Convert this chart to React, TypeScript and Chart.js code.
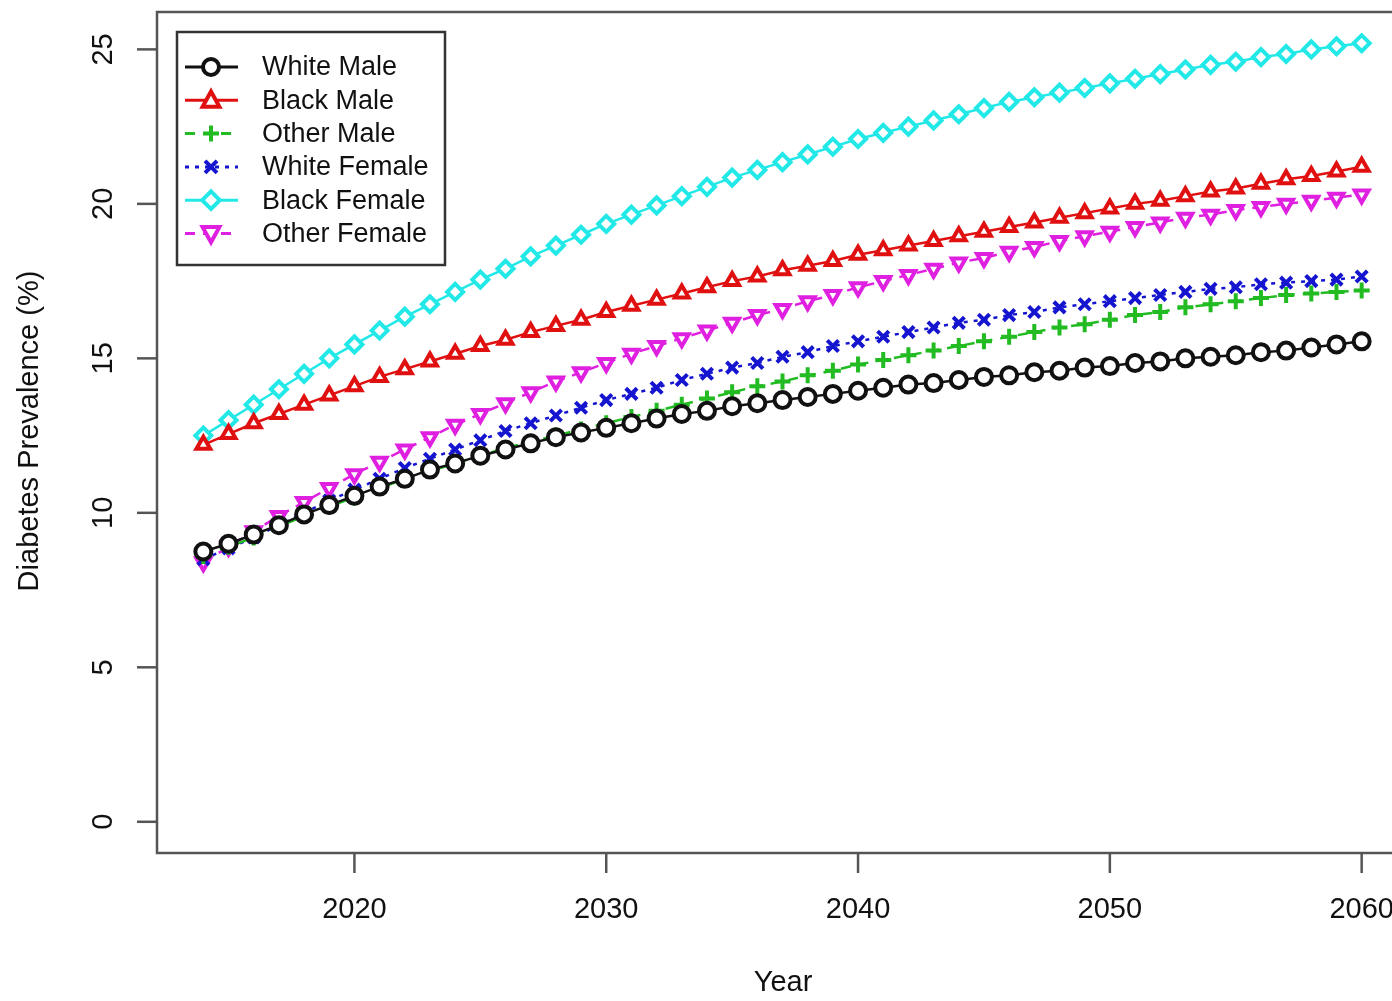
import React, { useEffect, useRef } from "react";
import { Chart, registerables } from "chart.js";
Chart.register(...registerables);

const years = [
  2014, 2015, 2016, 2017, 2018, 2019, 2020, 2021, 2022, 2023, 2024, 2025, 2026, 2027, 2028, 2029,
  2030, 2031, 2032, 2033, 2034, 2035, 2036, 2037, 2038, 2039, 2040, 2041, 2042, 2043, 2044, 2045,
  2046, 2047, 2048, 2049, 2050, 2051, 2052, 2053, 2054, 2055, 2056, 2057, 2058, 2059, 2060,
];

const whiteMale = [
  8.75, 9.0, 9.3, 9.6, 9.95, 10.25, 10.55, 10.85, 11.1, 11.4, 11.6, 11.85, 12.05, 12.25, 12.45, 12.6,
  12.75, 12.9, 13.05, 13.2, 13.3, 13.45, 13.55, 13.65, 13.75, 13.85, 13.95, 14.05, 14.15, 14.2, 14.3, 14.4,
  14.45, 14.55, 14.6, 14.7, 14.75, 14.85, 14.9, 15.0, 15.05, 15.1, 15.2, 15.25, 15.35, 15.45, 15.55,
];
const blackMale = [
  12.2, 12.55, 12.9, 13.2, 13.5, 13.8, 14.1, 14.4, 14.65, 14.9, 15.15, 15.4, 15.6, 15.85, 16.05, 16.25,
  16.5, 16.7, 16.9, 17.1, 17.3, 17.5, 17.65, 17.85, 18.0, 18.15, 18.35, 18.5, 18.65, 18.8, 18.95, 19.1,
  19.25, 19.4, 19.55, 19.7, 19.85, 20.0, 20.1, 20.25, 20.4, 20.5, 20.65, 20.8, 20.9, 21.05, 21.2,
];
const otherMale = [
  8.6, 8.9, 9.2, 9.55, 9.9, 10.2, 10.5, 10.8, 11.1, 11.35, 11.6, 11.85, 12.1, 12.3, 12.5, 12.7,
  12.9, 13.1, 13.3, 13.5, 13.7, 13.9, 14.1, 14.25, 14.45, 14.6, 14.8, 14.95, 15.1, 15.25, 15.4, 15.55,
  15.7, 15.85, 16.0, 16.1, 16.25, 16.4, 16.5, 16.65, 16.75, 16.85, 16.95, 17.05, 17.1, 17.15, 17.2,
];
const whiteFemale = [
  8.5, 8.85, 9.2, 9.6, 10.0, 10.4, 10.75, 11.1, 11.45, 11.75, 12.05, 12.35, 12.65, 12.9, 13.15, 13.4,
  13.65, 13.85, 14.05, 14.3, 14.5, 14.7, 14.85, 15.05, 15.2, 15.4, 15.55, 15.7, 15.85, 16.0, 16.15, 16.25,
  16.4, 16.5, 16.65, 16.75, 16.85, 16.95, 17.05, 17.15, 17.25, 17.3, 17.4, 17.45, 17.5, 17.55, 17.65,
];
const blackFemale = [
  12.5, 13.0, 13.5, 14.0, 14.5, 15.0, 15.45, 15.9, 16.35, 16.75, 17.15, 17.55, 17.9, 18.3, 18.65, 19.0,
  19.35, 19.65, 19.95, 20.25, 20.55, 20.85, 21.1, 21.35, 21.6, 21.85, 22.1, 22.3, 22.5, 22.7, 22.9, 23.1,
  23.3, 23.45, 23.6, 23.75, 23.9, 24.05, 24.2, 24.35, 24.5, 24.6, 24.75, 24.85, 25.0, 25.1, 25.2,
];
const otherFemale = [
  8.4, 8.9, 9.4, 9.9, 10.35, 10.8, 11.25, 11.65, 12.05, 12.45, 12.85, 13.2, 13.55, 13.9, 14.25, 14.55,
  14.85, 15.15, 15.4, 15.65, 15.9, 16.15, 16.4, 16.6, 16.85, 17.05, 17.3, 17.5, 17.7, 17.9, 18.1, 18.25,
  18.45, 18.6, 18.8, 18.95, 19.1, 19.25, 19.4, 19.55, 19.65, 19.8, 19.9, 20.0, 20.1, 20.2, 20.3,
];

const seriesNames = ["White Male", "Black Male", "Other Male", "White Female", "Black Female", "Other Female"];
const seriesValues = [whiteMale, blackMale, otherMale, whiteFemale, blackFemale, otherFemale];
const seriesColors = ["#111111", "#e01010", "#22bb22", "#1515d0", "#22e8e8", "#e020e0"];
const seriesMarkers = ["circle", "triangle", "cross", "crossRot", "rectRot", "triangle"];
const seriesRotations = [0, 0, 0, 0, 0, 180];
const seriesDashes: number[][] = [[], [], [10, 8], [4, 6], [], [10, 8]];

const yTicks = [0, 5, 10, 15, 20, 25];
const xTicks = [2020, 2030, 2040, 2050, 2060];
const xTitle = "Year";
const yTitle = "Diabetes Prevalence (%)";

const FONT = '"Liberation Sans", Arial, sans-serif';
const TEXT = "#111111";

function drawMarker(ctx: CanvasRenderingContext2D, style: string, x: number, y: number, r: number, color: string, rot: number) {
  ctx.save();
  ctx.translate(x, y);
  ctx.rotate((rot * Math.PI) / 180);
  ctx.strokeStyle = color;
  ctx.fillStyle = "#ffffff";
  ctx.lineWidth = 4;
  ctx.setLineDash([]);
  ctx.beginPath();
  if (style === "circle") {
    ctx.arc(0, 0, r, 0, Math.PI * 2);
    ctx.fill();
    ctx.stroke();
  } else if (style === "triangle") {
    ctx.moveTo(0, -r * 1.1);
    ctx.lineTo(r * 1.05, r * 0.8);
    ctx.lineTo(-r * 1.05, r * 0.8);
    ctx.closePath();
    ctx.fill();
    ctx.stroke();
  } else if (style === "rectRot") {
    ctx.moveTo(0, -r * 1.1);
    ctx.lineTo(r * 1.1, 0);
    ctx.lineTo(0, r * 1.1);
    ctx.lineTo(-r * 1.1, 0);
    ctx.closePath();
    ctx.fill();
    ctx.stroke();
  } else if (style === "cross") {
    ctx.moveTo(-r, 0);
    ctx.lineTo(r, 0);
    ctx.moveTo(0, -r);
    ctx.lineTo(0, r);
    ctx.stroke();
  } else if (style === "crossRot") {
    const d = r * 0.75;
    ctx.moveTo(-d, -d);
    ctx.lineTo(d, d);
    ctx.moveTo(d, -d);
    ctx.lineTo(-d, d);
    ctx.stroke();
  }
  ctx.restore();
}

const axesPlugin = {
  id: "rAxes",
  afterDraw(chart: any) {
    const ctx: CanvasRenderingContext2D = chart.ctx;
    const xs = chart.scales.x;
    const ys = chart.scales.y;
    const ca = chart.chartArea;
    ctx.save();
    ctx.strokeStyle = "#555555";
    ctx.lineWidth = 2.5;
    ctx.setLineDash([]);
    ctx.strokeRect(ca.left, ca.top, ca.right - ca.left, ca.bottom - ca.top);

    ctx.fillStyle = TEXT;
    ctx.font = `29px ${FONT}`;
    ctx.textAlign = "center";
    ctx.textBaseline = "middle";
    for (const v of yTicks) {
      const py = ys.getPixelForValue(v);
      ctx.beginPath();
      ctx.moveTo(ca.left, py);
      ctx.lineTo(ca.left - 20, py);
      ctx.stroke();
      ctx.save();
      ctx.translate(104, py);
      ctx.rotate(-Math.PI / 2);
      ctx.fillText(String(v), 0, 0);
      ctx.restore();
    }
    for (const v of xTicks) {
      const px = xs.getPixelForValue(v);
      ctx.beginPath();
      ctx.moveTo(px, ca.bottom);
      ctx.lineTo(px, ca.bottom + 20);
      ctx.stroke();
      ctx.fillText(String(v), px, 910);
    }
    ctx.fillText(xTitle, 783, 983);
    ctx.save();
    ctx.translate(30, 431);
    ctx.rotate(-Math.PI / 2);
    ctx.fillText(yTitle, 0, 0);
    ctx.restore();

    const lx = 177, ly = 32, lw = 268, lh = 233;
    ctx.fillStyle = "#ffffff";
    ctx.fillRect(lx, ly, lw, lh);
    ctx.strokeStyle = "#333333";
    ctx.lineWidth = 2.5;
    ctx.strokeRect(lx, ly, lw, lh);
    ctx.font = `27px ${FONT}`;
    ctx.textAlign = "left";
    for (let i = 0; i < seriesNames.length; i++) {
      const yy = 67 + i * 33.3;
      ctx.strokeStyle = seriesColors[i];
      ctx.lineWidth = 3;
      ctx.setLineDash(seriesDashes[i]);
      ctx.beginPath();
      ctx.moveTo(185, yy);
      ctx.lineTo(238, yy);
      ctx.stroke();
      ctx.setLineDash([]);
      drawMarker(ctx, seriesMarkers[i], 211, yy, 8, seriesColors[i], seriesRotations[i]);
      ctx.fillStyle = TEXT;
      ctx.fillText(seriesNames[i], 262, yy + 1);
    }
    ctx.restore();
  },
};

export default function App() {
  const ref = useRef<HTMLCanvasElement>(null);
  useEffect(() => {
    if (!ref.current) return;
    const datasets = seriesNames.map((name, i) => ({
      label: name,
      data: years.map((yr, j) => ({ x: yr, y: seriesValues[i][j] })),
      borderColor: seriesColors[i],
      backgroundColor: "#ffffff",
      borderWidth: 2.5,
      borderDash: seriesDashes[i],
      pointStyle: seriesMarkers[i] as any,
      pointRotation: seriesRotations[i],
      pointRadius: 8,
      pointBorderWidth: 4,
      pointBorderColor: seriesColors[i],
      pointBackgroundColor: "#ffffff",
      tension: 0,
      fill: false,
    }));
    const chart = new Chart(ref.current, {
      type: "line",
      data: { datasets },
      options: {
        responsive: false,
        animation: false,
        devicePixelRatio: 1,
        layout: { padding: { left: 157, top: 10, right: 32, bottom: 148 } },
        scales: {
          x: { type: "linear", min: 2012.16, max: 2061.84, display: false },
          y: { type: "linear", min: -1.01, max: 26.21, display: false },
        },
        plugins: { legend: { display: false }, tooltip: { enabled: false } },
      },
      plugins: [axesPlugin],
    });
    return () => chart.destroy();
  }, []);
  return (
    <div style={{ position: "fixed", left: 0, top: 0, width: 1392, height: 1001, overflow: "hidden", background: "#ffffff" }}>
      <canvas ref={ref} width={1440} height={1001} style={{ display: "block", width: 1440, height: 1001 }} />
    </div>
  );
}
